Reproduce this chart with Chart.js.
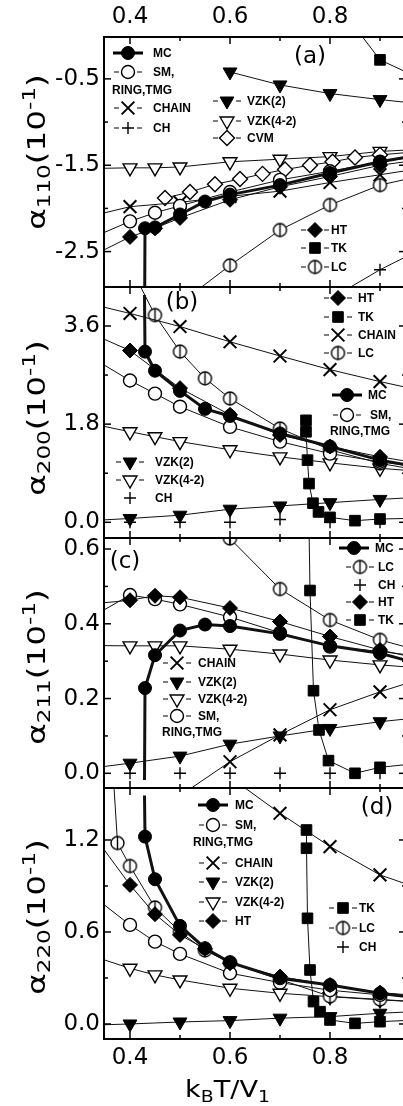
<!DOCTYPE html>
<html>
<head>
<meta charset="utf-8">
<script src="https://cdn.jsdelivr.net/npm/chart.js@4.4.0/dist/chart.umd.min.js"></script>
<style>
    html, body { margin: 0; padding: 0; background: #fff; width: 403px; height: 1106px; overflow: hidden; }
    .panel { position: absolute; left: 0; width: 408px; }
</style>
</head>
<body>
<div class="panel" style="top:0;height:289px"><canvas id="panelA"></canvas></div>
<div class="panel" style="top:285px;height:255px"><canvas id="panelB"></canvas></div>
<div class="panel" style="top:536px;height:254px"><canvas id="panelC"></canvas></div>
<div class="panel" style="top:786px;height:320px"><canvas id="panelD"></canvas></div>
<script>
// shared x axis (k_B T / V_1)
const X_MIN = 0.348, X_MAX = 0.952;
const X_TICKS = [0.4, 0.5, 0.6, 0.7, 0.8, 0.9];
const X_LABELED = [0.4, 0.6, 0.8];

// panel (a) alpha_110
const A_Y_TICKS = [-2.5, -2.0, -1.5, -1.0, -0.5];
const A_Y_LABELED = [-2.5, -1.5, -0.5];
const A_MC_X = [0.429, 0.43, 0.45, 0.5, 0.55, 0.6, 0.7, 0.8, 0.9, 1.0];
const A_MC_Y = [-3.5, -2.23, -2.22, -2.07, -1.92, -1.84, -1.73, -1.59, -1.46, -1.36];
const A_SM_X = [0.3, 0.4, 0.45, 0.5, 0.6, 0.7, 0.8, 0.9, 1.0];
const A_SM_Y = [-2.4, -2.15, -2.05, -1.97, -1.81, -1.67, -1.57, -1.46, -1.38];
const A_CHAIN_X = [0.3, 0.4, 0.5, 0.6, 0.7, 0.8, 0.9, 1.0];
const A_CHAIN_Y = [-2.12, -1.98, -1.93, -1.86, -1.80, -1.70, -1.61, -1.52];
const A_CH_X = [0.8, 0.9, 1.0];
const A_CH_Y = [-3.05, -2.71, -2.42];
const A_VZK2_X = [0.6, 0.7, 0.8, 0.9, 1.0];
const A_VZK2_Y = [-0.42, -0.57, -0.67, -0.74, -0.80];
const A_VZK42_X = [0.3, 0.4, 0.45, 0.5, 0.6, 0.7, 0.8, 0.9, 1.0];
const A_VZK42_Y = [-1.54, -1.53, -1.53, -1.52, -1.46, -1.43, -1.40, -1.34, -1.31];
const A_CVM_X = [0.47, 0.52, 0.57, 0.62, 0.665, 0.71, 0.76, 0.805, 0.85, 0.9, 1.0];
const A_CVM_Y = [-1.88, -1.81, -1.72, -1.66, -1.60, -1.55, -1.50, -1.46, -1.41, -1.38, -1.33];
const A_HT_X = [0.3, 0.4, 0.45, 0.5, 0.6, 0.7, 0.8, 0.9, 1.0];
const A_HT_Y = [-2.62, -2.33, -2.23, -2.11, -1.90, -1.75, -1.63, -1.50, -1.42];
const A_TK_X = [0.85, 0.9, 1.0];
const A_TK_Y = [0.1, -0.28, -0.55];
const A_LC_X = [0.5, 0.6, 0.7, 0.8, 0.9, 1.0];
const A_LC_Y = [-3.1, -2.66, -2.25, -1.96, -1.73, -1.60];

// panel (b) alpha_200
const B_Y_TICKS = [0.0, 0.9, 1.8, 2.7, 3.6];
const B_Y_LABELED = [0.0, 1.8, 3.6];
const B_MC_X = [0.429, 0.43, 0.45, 0.5, 0.55, 0.6, 0.7, 0.8, 0.9, 1.0];
const B_MC_Y = [4.17, 3.13, 2.78, 2.41, 2.08, 1.95, 1.63, 1.39, 1.14, 0.98];
const B_SM_X = [0.3, 0.4, 0.45, 0.5, 0.6, 0.7, 0.8, 0.9, 1.0];
const B_SM_Y = [3.15, 2.60, 2.36, 2.12, 1.75, 1.48, 1.26, 1.11, 0.98];
const B_CHAIN_X = [0.3, 0.4, 0.5, 0.6, 0.7, 0.8, 0.9, 1.0];
const B_CHAIN_Y = [4.05, 3.83, 3.59, 3.31, 3.05, 2.80, 2.58, 2.38];
const B_LC_X = [0.4, 0.45, 0.5, 0.55, 0.6, 0.7, 0.8, 0.9, 1.0];
const B_LC_Y = [4.7, 3.80, 3.13, 2.64, 2.27, 1.72, 1.33, 1.08, 0.92];
const B_HT_X = [0.3, 0.4, 0.5, 0.6, 0.7, 0.8, 0.9, 1.0];
const B_HT_Y = [3.55, 3.15, 2.46, 1.97, 1.60, 1.39, 1.20, 1.05];
const B_TK_X = [0.752, 0.752, 0.755, 0.758, 0.766, 0.777, 0.8, 0.85, 0.9, 1.0];
const B_TK_Y = [1.87, 1.66, 1.14, 0.71, 0.35, 0.19, 0.09, 0.03, 0.06, 0.08];
const B_VZK2_X = [0.3, 0.4, 0.5, 0.6, 0.7, 0.8, 0.9, 1.0];
const B_VZK2_Y = [0.02, 0.07, 0.13, 0.24, 0.30, 0.36, 0.42, 0.47];
const B_VZK42_X = [0.3, 0.4, 0.45, 0.5, 0.6, 0.7, 0.8, 0.9, 1.0];
const B_VZK42_Y = [1.85, 1.66, 1.57, 1.48, 1.33, 1.20, 1.09, 0.99, 0.92];
const B_CH_X = [0.4, 0.5, 0.6, 0.7, 0.8, 0.9];
const B_CH_Y = [0.0, 0.0, 0.0, 0.05, 0.0, 0.0];

// panel (c) alpha_211
const C_Y_TICKS = [0.0, 0.1, 0.2, 0.3, 0.4, 0.5, 0.6];
const C_Y_LABELED = [0.0, 0.2, 0.4, 0.6];
const C_MC_X = [0.429, 0.43, 0.45, 0.5, 0.55, 0.6, 0.7, 0.8, 0.9, 1.0];
const C_MC_Y = [-0.018, 0.228, 0.316, 0.382, 0.398, 0.394, 0.373, 0.341, 0.321, 0.285];
const C_SM_X = [0.3, 0.4, 0.45, 0.5, 0.6, 0.7, 0.8, 0.9, 1.0];
const C_SM_Y = [0.40, 0.477, 0.466, 0.452, 0.418, 0.376, 0.339, 0.326, 0.31];
const C_HT_X = [0.3, 0.4, 0.45, 0.5, 0.6, 0.7, 0.8, 0.9, 1.0];
const C_HT_Y = [0.45, 0.463, 0.475, 0.471, 0.442, 0.406, 0.366, 0.330, 0.30];
const C_LC_X = [0.5, 0.6, 0.7, 0.8, 0.9, 1.0];
const C_LC_Y = [0.76, 0.628, 0.493, 0.410, 0.357, 0.32];
const C_VZK42_X = [0.3, 0.4, 0.45, 0.5, 0.6, 0.7, 0.8, 0.9, 1.0];
const C_VZK42_Y = [0.342, 0.341, 0.341, 0.341, 0.332, 0.319, 0.303, 0.290, 0.28];
const C_VZK2_X = [0.3, 0.4, 0.5, 0.6, 0.7, 0.8, 0.9, 1.0];
const C_VZK2_Y = [0.01, 0.027, 0.046, 0.078, 0.100, 0.120, 0.138, 0.152];
const C_CHAIN_X = [0.5, 0.6, 0.7, 0.8, 0.9, 1.0];
const C_CHAIN_Y = [-0.06, 0.031, 0.103, 0.170, 0.218, 0.26];
const C_TK_X = [0.754, 0.76, 0.767, 0.778, 0.797, 0.85, 0.9, 1.0];
const C_TK_Y = [1.0, 0.489, 0.221, 0.116, 0.034, 0.0, 0.016, 0.03];
const C_CH_X = [0.4, 0.5, 0.6, 0.7, 0.8, 0.9];
const C_CH_Y = [0.0, 0.0, 0.0, 0.0, 0.0, 0.0];

// panel (d) alpha_220
const D_Y_TICKS = [0.0, 0.3, 0.6, 0.9, 1.2];
const D_Y_LABELED = [0.0, 0.6, 1.2];
const D_MC_X = [0.429, 0.43, 0.45, 0.5, 0.55, 0.6, 0.7, 0.8, 0.9, 1.0];
const D_MC_Y = [1.49, 1.222, 0.944, 0.640, 0.494, 0.402, 0.298, 0.254, 0.200, 0.16];
const D_SM_X = [0.3, 0.4, 0.45, 0.5, 0.6, 0.7, 0.8, 0.9, 1.0];
const D_SM_Y = [0.90, 0.646, 0.537, 0.457, 0.331, 0.27, 0.22, 0.19, 0.17];
const D_LC_X = [0.365, 0.375, 0.4, 0.45, 0.5, 0.55, 0.6, 0.7, 0.8, 0.9, 1.0];
const D_LC_Y = [1.7, 1.18, 1.03, 0.76, 0.60, 0.48, 0.40, 0.29, 0.18, 0.16, 0.14];
const D_HT_X = [0.3, 0.4, 0.45, 0.5, 0.55, 0.6, 0.7, 0.8, 0.9, 1.0];
const D_HT_Y = [1.35, 0.907, 0.716, 0.581, 0.49, 0.396, 0.309, 0.254, 0.204, 0.18];
const D_CHAIN_X = [0.6, 0.7, 0.8, 0.9, 1.0];
const D_CHAIN_Y = [1.61, 1.374, 1.157, 0.972, 0.86];
const D_VZK2_X = [0.3, 0.4, 0.5, 0.6, 0.7, 0.8, 0.9, 1.0];
const D_VZK2_Y = [-0.01, 0.0, 0.013, 0.022, 0.038, 0.048, 0.07, 0.085];
const D_VZK42_X = [0.3, 0.4, 0.45, 0.5, 0.6, 0.7, 0.8, 0.9, 1.0];
const D_VZK42_Y = [0.47, 0.363, 0.320, 0.287, 0.233, 0.200, 0.178, 0.157, 0.14];
const D_TK_X = [0.753, 0.753, 0.755, 0.76, 0.767, 0.78, 0.8, 0.85, 0.9, 1.0];
const D_TK_Y = [1.265, 1.146, 0.689, 0.352, 0.146, 0.080, 0.026, 0.004, 0.015, 0.03];

// ---- styles ----
const TICK_FONT = { family: "DejaVu Sans", size: 23 };
const LEG_FONT = 'bold 12px "Liberation Sans"';

function makeLcMarker(r, lw) {
    const c = document.createElement("canvas");
    const s = Math.ceil(2 * r + lw + 2);
    c.width = s; c.height = s;
    const g = c.getContext("2d");
    g.beginPath();
    g.arc(s / 2, s / 2, r, 0, Math.PI * 2);
    g.fillStyle = "#fff"; g.fill();
    g.lineWidth = lw; g.strokeStyle = "#000"; g.stroke();
    g.beginPath();
    g.moveTo(s / 2, s / 2 - r); g.lineTo(s / 2, s / 2 + r);
    g.stroke();
    return c;
}

const STYLE = {
    MC:    { shape: "circle",   fill: "#000", r: 6.5, bw: 1 },
    SM:    { shape: "circle",   fill: "#fff", r: 6.5, bw: 1.4 },
    CHAIN: { shape: "crossRot", r: 9, bw: 2 },
    CH:    { shape: "cross",    r: 6, bw: 1.4 },
    VZK2:  { shape: "triangle", fill: "#000", r: 8, rot: 180, bw: 1 },
    VZK42: { shape: "triangle", fill: "#fff", r: 8, rot: 180, bw: 1.4 },
    CVM:   { shape: "rectRot",  fill: "#fff", r: 7.5, bw: 1.4 },
    HT:    { shape: "rectRot",  fill: "#000", r: 7.5, bw: 1 },
    TK:    { shape: "rect",     fill: "#000", r: 7.5, bw: 1 },
    LC:    { img: makeLcMarker(6.5, 1.4), r: 6.5 }
};

function series(key, xs, ys, extra) {
    const st = STYLE[key];
    const radius = key === "MC" ? xs.map((x, i) => (i === 0 ? 0 : st.r)) : st.r;
    return Object.assign({
        label: key,
        data: xs.map((x, i) => ({ x: x, y: ys[i] })),
        showLine: true,
        borderColor: "#111",
        borderWidth: key === "MC" ? 3 : 1,
        pointStyle: st.img || st.shape,
        pointRadius: radius,
        pointHoverRadius: radius,
        pointRotation: st.rot || 0,
        pointBackgroundColor: st.fill || "rgba(0,0,0,0)",
        pointBorderColor: "#000",
        pointBorderWidth: st.bw || 1,
        tension: 0,
        fill: false
    }, extra || {});
}

// own marker drawing for the in-plot legends
function drawMarker(ctx, key, x, y) {
    const st = STYLE[key];
    if (st.img) {
        ctx.drawImage(st.img, x - st.img.width / 2, y - st.img.height / 2);
        return;
    }
    const r = st.r;
    ctx.save();
    ctx.translate(x, y);
    ctx.rotate((st.rot || 0) * Math.PI / 180);
    ctx.beginPath();
    if (st.shape === "circle") {
        ctx.arc(0, 0, r, 0, Math.PI * 2);
    } else if (st.shape === "triangle") {
        for (let k = 0; k < 3; k++) {
            const a = k * 2 * Math.PI / 3;
            ctx.lineTo(Math.sin(a) * r, -Math.cos(a) * r);
        }
        ctx.closePath();
    } else if (st.shape === "rect") {
        const s = r * Math.SQRT1_2;
        ctx.rect(-s, -s, 2 * s, 2 * s);
    } else if (st.shape === "rectRot") {
        ctx.moveTo(-r, 0); ctx.lineTo(0, -r); ctx.lineTo(r, 0); ctx.lineTo(0, r);
        ctx.closePath();
    } else if (st.shape === "cross") {
        ctx.moveTo(0, -r); ctx.lineTo(0, r); ctx.moveTo(-r, 0); ctx.lineTo(r, 0);
    } else if (st.shape === "crossRot") {
        const o = r * Math.SQRT1_2;
        ctx.moveTo(-o, -o); ctx.lineTo(o, o); ctx.moveTo(-o, o); ctx.lineTo(o, -o);
    }
    if (st.fill) { ctx.fillStyle = st.fill; ctx.fill(); }
    ctx.lineWidth = st.bw; ctx.strokeStyle = "#000"; ctx.stroke();
    ctx.restore();
}

// text with sub/superscripts, segments [text, size, dy]; stretch widens along the text
function drawSegments(ctx, segs, x, y, rotate, center, stretch) {
    ctx.save();
    ctx.translate(x, y);
    if (rotate) ctx.rotate(-Math.PI / 2);
    ctx.scale(stretch, 1);
    let w = 0;
    segs.forEach(s => { ctx.font = s[1] + 'px "DejaVu Sans"'; w += ctx.measureText(s[0]).width; });
    let pos = center ? -w / 2 : 0;
    ctx.fillStyle = "#000";
    ctx.textBaseline = "alphabetic";
    ctx.textAlign = "left";
    segs.forEach(s => {
        ctx.font = s[1] + 'px "DejaVu Sans"';
        ctx.fillText(s[0], pos, s[2]);
        pos += ctx.measureText(s[0]).width;
    });
    ctx.restore();
}

// legend layout: [text, marker key, marker dx, marker dy, text dx, line kind] relative to plot corner
const LAYOUT_A = [
    ["MC", "MC", 24, 16, 49, "thick"], ["SM,", "SM", 24, 35, 49, "dash"], ["RING,TMG", null, 8, 54],
    ["CHAIN", "CHAIN", 24, 71, 49, "dash"], ["CH", "CH", 24, 91, 49, "dash"],
    ["VZK(2)", "VZK2", 123, 64, 143, "dash"], ["VZK(4-2)", "VZK42", 123, 84, 143, "dash"],
    ["CVM", "CVM", 123, 101, 143, "dash"],
    ["HT", "HT", 211, 193, 227, "dash"], ["TK", "TK", 211, 211, 227, "dash"], ["LC", "LC", 211, 230, 227, "dash"]
];
const LAYOUT_B = [
    ["HT", "HT", 234, 11, 254, "dash"], ["TK", "TK", 234, 30, 254, "dash"],
    ["CHAIN", "CHAIN", 234, 48, 254, "dash"], ["LC", "LC", 234, 66, 254, "dash"],
    ["MC", "MC", 243, 108, 264, "thick"], ["SM,", "SM", 243, 128, 266, "dash"], ["RING,TMG", null, 226, 145],
    ["VZK(2)", "VZK2", 26, 175, 51, "dash"], ["VZK(4-2)", "VZK42", 26, 193, 51, "dash"],
    ["CH", "CH", 26, 211, 51, "none"]
];
const LAYOUT_C = [
    ["MC", "MC", 250, 10, 271, "thick"], ["LC", "LC", 256, 29, 274, "dash"],
    ["CH", "CH", 256, 47, 274, "none"], ["HT", "HT", 256, 64, 274, "dash"], ["TK", "TK", 256, 82, 274, "dash"],
    ["CHAIN", "CHAIN", 73, 125, 94, "dash"], ["VZK(2)", "VZK2", 73, 144, 94, "dash"],
    ["VZK(4-2)", "VZK42", 73, 161, 94, "dash"], ["SM,", "SM", 73, 178, 94, "dash"], ["RING,TMG", null, 58, 195]
];
const LAYOUT_D = [
    ["MC", "MC", 109, 17, 131, "thick"], ["SM,", "SM", 109, 37, 131, "dash"], ["RING,TMG", null, 89, 55],
    ["CHAIN", "CHAIN", 109, 75, 131, "dash"], ["VZK(2)", "VZK2", 109, 94, 131, "dash"],
    ["VZK(4-2)", "VZK42", 109, 114, 131, "dash"], ["HT", "HT", 109, 133, 131, "dash"],
    ["TK", "TK", 239, 120, 255, "dash"], ["LC", "LC", 239, 140, 255, "dash"], ["CH", "CH", 239, 159, 255, "none"]
];

function decor(cfg) {
    return {
        id: "decor",
        afterDraw(chart) {
            const ctx = chart.ctx, a = chart.chartArea;
            const xs = chart.scales.x, ys = chart.scales.y;
            ctx.save();
            ctx.strokeStyle = "#000";
            ctx.lineWidth = 1.5;
            const seg = (x1, y1, x2, y2) => { ctx.beginPath(); ctx.moveTo(x1, y1); ctx.lineTo(x2, y2); ctx.stroke(); };
            // inward ticks
            X_TICKS.forEach(v => {
                const p = xs.getPixelForValue(v);
                const L = X_LABELED.includes(v) ? 7 : 4;
                seg(p, a.top, p, a.top + L);
                seg(p, a.bottom, p, a.bottom - L);
            });
            cfg.yTicks.forEach(v => {
                const p = ys.getPixelForValue(v);
                const L = cfg.yLabeled.includes(v) ? 7 : 4;
                seg(a.left, p, a.left + L, p);
                seg(a.right, p, a.right - L, p);
            });
            ctx.lineWidth = 2;
            ctx.strokeRect(a.left, a.top, a.right - a.left, a.bottom - a.top);

            // in-plot legend
            cfg.legend.forEach(e => {
                const mx = a.left + e[2], my = a.top + e[3];
                ctx.font = LEG_FONT;
                ctx.textBaseline = "middle";
                ctx.textAlign = "left";
                ctx.fillStyle = "#000";
                if (!e[1]) {
                    ctx.fillText(e[0], mx, my);
                    return;
                }
                ctx.strokeStyle = "#000";
                if (e[5] === "thick") {
                    ctx.lineWidth = 3;
                    seg(mx - 15, my, mx + 15, my);
                } else if (e[5] === "dash") {
                    ctx.lineWidth = 1;
                    seg(mx - 14, my, mx - 9, my);
                    seg(mx + 9, my, mx + 14, my);
                }
                drawMarker(ctx, e[1], mx, my);
                ctx.fillText(e[0], a.left + e[4], my + 0.5);
            });

            // panel tag
            ctx.font = '23px "DejaVu Sans"';
            ctx.textAlign = "center";
            ctx.textBaseline = "middle";
            ctx.fillStyle = "#000";
            ctx.fillText(cfg.tag, a.left + cfg.tagPos[0], a.top + cfg.tagPos[1]);

            // y title: alpha_hkl (10^-1)
            drawSegments(ctx, [["α", 24, 0], [cfg.sub, 17, 5], ["(10", 24, 0], ["-1", 17, -10], [")", 24, 0]],
                45, cfg.titleY, true, true, 1.36);

            if (cfg.xTitle) {
                drawSegments(ctx, [["k", 23, 0], ["B", 16, 5], ["T/V", 23, 0], ["1", 16, 5]],
                    185, a.bottom + 58, false, false, 1.18);
            }
            ctx.restore();
        }
    };
}

function yAxis(min, max, ticks, labeled) {
    return {
        type: "linear",
        min: min, max: max,
        grid: { display: false, drawTicks: false, tickLength: 0 },
        border: { display: false },
        afterBuildTicks: s => { s.ticks = ticks.map(v => ({ value: v })); },
        afterFit: s => { s.width = 104; s.paddingTop = 0; s.paddingBottom = 0; },
        ticks: {
            autoSkip: false,
            padding: 4,
            color: "#000",
            font: TICK_FONT,
            callback: v => (labeled.includes(v) ? v.toFixed(1) : "")
        }
    };
}

function xAxis(position, show, height, pad) {
    return {
        type: "linear",
        position: position,
        display: show,
        min: X_MIN, max: X_MAX,
        grid: { display: false, drawTicks: false, tickLength: 0 },
        border: { display: false },
        afterBuildTicks: s => { s.ticks = X_TICKS.map(v => ({ value: v })); },
        afterFit: s => { s.height = height; s.paddingLeft = 0; s.paddingRight = 0; },
        ticks: {
            autoSkip: false,
            maxRotation: 0,
            padding: pad,
            color: "#000",
            font: TICK_FONT,
            callback: v => (X_LABELED.includes(v) ? v.toFixed(1) : "")
        }
    };
}

function makePanel(id, datasets, xScale, yScale, padding, cfg) {
    return new Chart(document.getElementById(id), {
        type: "line",
        data: { datasets: datasets },
        options: {
            responsive: true,
            maintainAspectRatio: false,
            animation: false,
            events: [],
            layout: { padding: padding, autoPadding: false },
            plugins: { legend: { display: false }, tooltip: { enabled: false } },
            scales: { x: xScale, y: yScale }
        },
        plugins: [decor(cfg)]
    });
}

makePanel("panelA", [
    series("MC", A_MC_X, A_MC_Y),
    series("HT", A_HT_X, A_HT_Y),
    series("SM", A_SM_X, A_SM_Y),
    series("CHAIN", A_CHAIN_X, A_CHAIN_Y),
    series("CVM", A_CVM_X, A_CVM_Y),
    series("TK", A_TK_X, A_TK_Y),
    series("LC", A_LC_X, A_LC_Y),
    series("VZK2", A_VZK2_X, A_VZK2_Y),
    series("VZK42", A_VZK42_X, A_VZK42_Y),
    series("CH", A_CH_X, A_CH_Y)
], xAxis("top", true, 37, 6), yAxis(-2.91, -0.015, A_Y_TICKS, A_Y_LABELED),
    { top: 0, bottom: 2, left: 0, right: 2 },
    { yTicks: A_Y_TICKS, yLabeled: A_Y_LABELED, legend: LAYOUT_A, tag: "(a)", tagPos: [206, 20], sub: "110", titleY: 152 });

makePanel("panelB", [
    series("MC", B_MC_X, B_MC_Y),
    series("HT", B_HT_X, B_HT_Y),
    series("SM", B_SM_X, B_SM_Y),
    series("TK", B_TK_X, B_TK_Y),
    series("CHAIN", B_CHAIN_X, B_CHAIN_Y),
    series("LC", B_LC_X, B_LC_Y),
    series("VZK2", B_VZK2_X, B_VZK2_Y),
    series("VZK42", B_VZK42_X, B_VZK42_Y),
    series("CH", B_CH_X, B_CH_Y, { showLine: false })
], xAxis("bottom", false, 0, 0), yAxis(-0.288, 4.315, B_Y_TICKS, B_Y_LABELED),
    { top: 2, bottom: 2, left: 0, right: 2 },
    { yTicks: B_Y_TICKS, yLabeled: B_Y_LABELED, legend: LAYOUT_B, tag: "(b)", tagPos: [78, 16], sub: "200", titleY: 133 });

makePanel("panelC", [
    series("MC", C_MC_X, C_MC_Y),
    series("HT", C_HT_X, C_HT_Y),
    series("SM", C_SM_X, C_SM_Y),
    series("TK", C_TK_X, C_TK_Y),
    series("CHAIN", C_CHAIN_X, C_CHAIN_Y),
    series("LC", C_LC_X, C_LC_Y),
    series("VZK2", C_VZK2_X, C_VZK2_Y),
    series("VZK42", C_VZK42_X, C_VZK42_Y),
    series("CH", C_CH_X, C_CH_Y, { showLine: false })
], xAxis("bottom", false, 0, 0), yAxis(-0.0393, 0.6295, C_Y_TICKS, C_Y_LABELED),
    { top: 2, bottom: 2, left: 0, right: 2 },
    { yTicks: C_Y_TICKS, yLabeled: C_Y_LABELED, legend: LAYOUT_C, tag: "(c)", tagPos: [21, 24], sub: "211", titleY: 131 });

makePanel("panelD", [
    series("MC", D_MC_X, D_MC_Y),
    series("HT", D_HT_X, D_HT_Y),
    series("SM", D_SM_X, D_SM_Y),
    series("TK", D_TK_X, D_TK_Y),
    series("CHAIN", D_CHAIN_X, D_CHAIN_Y),
    series("LC", D_LC_X, D_LC_Y),
    series("VZK2", D_VZK2_X, D_VZK2_Y),
    series("VZK42", D_VZK42_X, D_VZK42_Y)
], xAxis("bottom", true, 67, 5), yAxis(-0.098, 1.539, D_Y_TICKS, D_Y_LABELED),
    { top: 2, bottom: 0, left: 0, right: 2 },
    { yTicks: D_Y_TICKS, yLabeled: D_Y_LABELED, legend: LAYOUT_D, tag: "(d)", tagPos: [273, 20], sub: "220", titleY: 131, xTitle: true });
</script>
</body>
</html>
